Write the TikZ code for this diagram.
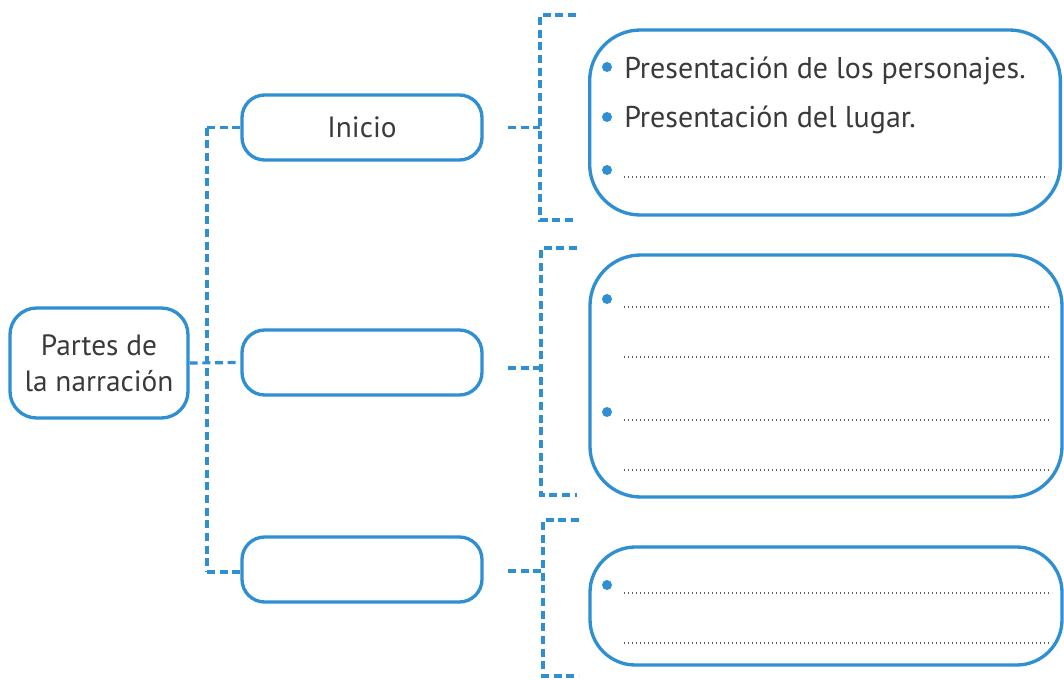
\documentclass[tikz,border=0pt]{standalone}
\usepackage{fontspec}
\setmainfont{PT Sans}
\definecolor{lineblue}{HTML}{2E8FD3}
\definecolor{txt}{HTML}{3A3A3A}
\definecolor{dotgray}{HTML}{5E5E5E}
\begin{document}
\begin{tikzpicture}[x=0.75pt,y=-0.75pt,
  box/.style={draw=lineblue,line width=2.5pt,rounded corners=17pt,minimum width=180pt,minimum height=48.75pt,inner sep=0pt,text=txt,font=\fontsize{22}{27}\selectfont,align=center},
  bigbox/.style={draw=lineblue,line width=2.5pt,rounded corners=38pt,inner sep=0pt,minimum width=353pt},
  conn/.style={draw=lineblue,line width=2.4pt,dash pattern=on 6pt off 3.5pt},
  dotline/.style={draw=dotgray,line width=1.8pt,dash pattern=on 1pt off 2pt},
  bul/.style={circle,fill=lineblue,inner sep=0pt,minimum size=7.5pt},
  lbl/.style={anchor=base west,text=txt,font=\fontsize{22.5}{27}\selectfont,inner sep=0pt}]
\useasboundingbox (0,0) rectangle (1064,679);
% left column
\node[box,minimum width=133.5pt,minimum height=82.5pt,rounded corners=20pt] (root) at (99,363) {Partes de\\la narración};
\node[box] (inicio) at (362,127.5) {Inicio};
\node[box] (medio) at (362,362.5) {};
\node[box] (fin) at (362,569.5) {};
% right boxes
\node[bigbox,minimum height=138.75pt] (b1) at (825,122.5) {};
\node[bigbox,minimum height=181.5pt,minimum width=354pt] (b2) at (826,376) {};
\node[bigbox,minimum height=88.5pt,minimum width=354pt,rounded corners=34pt] (b3) at (826,606) {};
% trunk
\coordinate (jt) at (207,127.5);
\coordinate (jm) at (207,362.5);
\coordinate (jb) at (207,572);
\draw[conn] (jt) -- (jb);
\draw[conn] (jt) -- (inicio.west);
\draw[conn] (root.east) -- (medio.west);
\draw[conn] (jb) -- (fin.west |- jb);
% brackets
\coordinate (s1) at (508,127.5); \coordinate (k1) at (540,127.5);
\coordinate (t1a) at (576,15); \coordinate (t1b) at (576,220);
\draw[conn] (s1) -- (k1);
\draw[conn] (t1a) -- (540,15) -- (540,220) -- (t1b);
\coordinate (s2) at (508,368); \coordinate (k2) at (541,368);
\coordinate (t2a) at (577,248); \coordinate (t2b) at (577,495);
\draw[conn] (s2) -- (k2);
\draw[conn] (t2a) -- (541,248) -- (541,495) -- (t2b);
\coordinate (s3) at (508,571); \coordinate (k3) at (543,571);
\coordinate (t3a) at (579,520); \coordinate (t3b) at (579,676);
\draw[conn] (s3) -- (k3);
\draw[conn] (t3a) -- (543,520) -- (543,676) -- (t3b);
% box 1 contents
\node[bul] (p1) at (607,67) {};
\node[lbl] (l1) at (624,78) {Presentación de los personajes.};
\node[bul] (p2) at (607,117) {};
\node[lbl] (l2) at (624,127) {Presentación del lugar.};
\node[bul] (p3) at (607,170) {};
\draw[dotline] (624,177) -- (1048,177);
% box 2 contents
\node[bul] (p4) at (607,299) {};
\draw[dotline] (624,307) -- (1050,307);
\draw[dotline] (624,357) -- (1050,357);
\node[bul] (p5) at (607,412) {};
\draw[dotline] (624,420) -- (1050,420);
\draw[dotline] (624,470) -- (1050,470);
% box 3 contents
\node[bul] (p6) at (607,585) {};
\draw[dotline] (624,593) -- (1052,593);
\draw[dotline] (624,643) -- (1052,643);
\end{tikzpicture}
\end{document}
